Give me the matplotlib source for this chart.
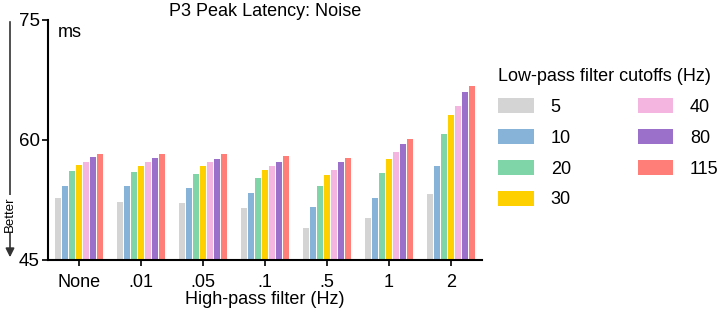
import matplotlib
matplotlib.use("Agg")
import matplotlib.pyplot as plt
import numpy as np

plt.rcParams['font.family'] = ['Liberation Sans', 'DejaVu Sans']

highpass = ["None", ".01", ".05", ".1", ".5", "1", "2"]
lowpass = ["5", "10", "20", "30", "40", "80", "115"]
colors = ["#d4d4d4", "#88b3d9", "#80d5a8", "#ffd000", "#f4b5e0", "#9a70cb", "#ff7f78"]

lp5 = [52.75, 52.25, 52.1, 51.45, 49.05, 50.3, 53.2]
lp10 = [54.25, 54.25, 54.0, 53.4, 51.6, 52.8, 56.8]
lp20 = [56.1, 56.0, 55.7, 55.25, 54.2, 55.9, 60.75]
lp30 = [56.9, 56.8, 56.75, 56.25, 55.6, 57.6, 63.1]
lp40 = [57.3, 57.25, 57.2, 56.75, 56.3, 58.5, 64.3]
lp80 = [57.9, 57.75, 57.6, 57.3, 57.25, 59.45, 65.95]
lp115 = [58.25, 58.2, 58.2, 57.95, 57.75, 60.1, 66.7]
series = [lp5, lp10, lp20, lp30, lp40, lp80, lp115]

fig = plt.figure(figsize=(7.2, 3.16), dpi=100)
ax = fig.add_axes([48/720, 1-260/316, 434/720, 240/316])

x = np.arange(len(highpass))
pitch = 0.112
width = 0.095
for i, (vals, c, lab) in enumerate(zip(series, colors, lowpass)):
    ax.bar(x + (i - 3) * pitch, vals, width=width, color=c, label=lab, bottom=0)

ax.set_ylim(45, 75)
ax.set_xlim(-0.5, 6.5)
ax.set_yticks([45, 60, 75])
ax.set_xticks(x)
ax.set_xticklabels(highpass)
for s in ["top", "right"]:
    ax.spines[s].set_visible(False)
for s in ["left", "bottom"]:
    ax.spines[s].set_linewidth(1.5)
ax.tick_params(axis='y', labelsize=13.5, width=1.2, length=4, pad=2)
ax.tick_params(axis='x', labelsize=13, width=1.2, length=4, pad=6)
ax.set_xlabel("High-pass filter (Hz)", fontsize=13, labelpad=0)
ax.set_title("P3 Peak Latency: Noise", fontsize=13, pad=3)
ax.text(0.023, 0.985, "ms", transform=ax.transAxes, fontsize=13, va='top', ha='left')

# Better arrow
fig.add_artist(matplotlib.patches.FancyArrowPatch(
    (10/720, 1-19/316), (10/720, 1-260/316), transform=fig.transFigure,
    arrowstyle='-|>', mutation_scale=13, color='#333333', lw=1.2))
fig.text(10/720, 1-214/316, "Better", rotation=90, fontsize=9.5, ha='center', va='center',
         bbox=dict(facecolor='white', edgecolor='none', pad=1))

leg = fig.legend(loc='upper left', bbox_to_anchor=(493/720, 1-63/316), ncol=2,
                 title="Low-pass filter cutoffs (Hz)", title_fontsize=13, fontsize=13,
                 frameon=False, handlelength=1.95, handleheight=0.9, labelspacing=0.72,
                 handletextpad=0.95, columnspacing=3.7, borderaxespad=0, borderpad=0.3)
leg._legend_box.align = "left"

fig.savefig("out.png", dpi=100)
